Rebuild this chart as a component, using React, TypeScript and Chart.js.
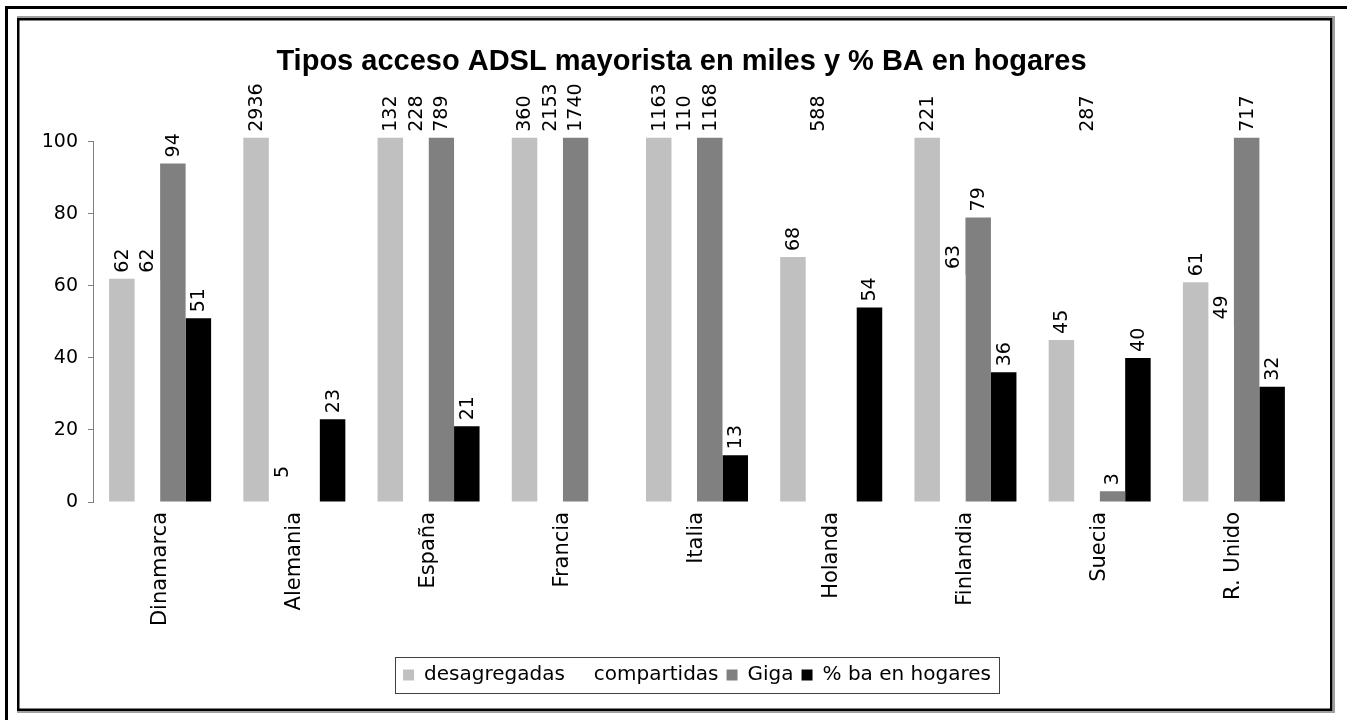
import React, { useEffect, useRef } from "react";
import { Chart, registerables } from "chart.js";

Chart.register(...registerables);

const TITLE = "Tipos acceso ADSL mayorista en miles y % BA en hogares";
const countries = ["Dinamarca", "Alemania", "España", "Francia", "Italia", "Holanda", "Finlandia", "Suecia", "R. Unido"];
const desagregadas = [62, 2936, 132, 360, 1163, 68, 221, 45, 61];
const compartidas = [62, 5, 228, 2153, 110, 588, 63, 287, 49];
const giga = [94, null, 789, 1740, 1168, null, 79, 3, 717];
const baHogares = [51, 23, 21, null, 13, 54, 36, 40, 32];
const seriesNames = ["desagregadas", "compartidas", "Giga", "% ba en hogares"];
const seriesColors = ["#C0C0C0", "#FFFFFF", "#808080", "#000000"];
const yMin = 0;
const yMax = 100;
const yStep = 20;

const SANS = '"DejaVu Sans", "Liberation Sans", Arial, sans-serif';

const framePlugin = {
  id: "frames",
  afterLayout(chart: any) {
    const tb = chart.titleBlock;
    if (tb) {
      tb.left += 21;
      tb.right += 21;
    }
  },
  beforeDraw(chart: any) {
    const ctx = chart.ctx;
    const W = chart.width;
    const H = chart.height;
    ctx.save();
    ctx.fillStyle = "#FFFFFF";
    ctx.fillRect(0, 0, W, H);
    // outer page border (top & left)
    ctx.fillStyle = "#000000";
    ctx.fillRect(5, 6, W - 5, 3);
    ctx.fillRect(5, 6, 3, H - 6);
    // inner chart frame shadow
    ctx.fillStyle = "#A0A0A0";
    ctx.fillRect(17, 16, 1318, 2);
    ctx.fillRect(1333, 16, 2, 697);
    ctx.fillRect(17, 711, 1318, 2);
    // inner chart frame
    ctx.strokeStyle = "#000000";
    ctx.lineWidth = 2.5;
    ctx.strokeRect(18.25, 19.25, 1313, 690.5);
    ctx.restore();
  },
  afterDraw(chart: any) {
    const lg = chart.legend;
    if (!lg || !lg.legendHitBoxes || !lg.legendHitBoxes.length) return;
    const boxes = lg.legendHitBoxes;
    let left = Infinity, right = -Infinity, top = Infinity, bottom = -Infinity;
    boxes.forEach((b: any) => {
      left = Math.min(left, b.left);
      right = Math.max(right, b.left + b.width);
      top = Math.min(top, b.top);
      bottom = Math.max(bottom, b.top + b.height);
    });
    const ctx = chart.ctx;
    ctx.save();
    ctx.strokeStyle = "#404040";
    ctx.lineWidth = 1;
    ctx.strokeRect(Math.round(left - 8) + 0.5, Math.round(top - 8) + 0.5, Math.round(right - left + 16), Math.round(bottom - top + 16));
    ctx.restore();
  },
};

const labelPlugin = {
  id: "vlabels",
  afterDatasetsDraw(chart: any) {
    const ctx = chart.ctx;
    const area = chart.chartArea;
    ctx.save();
    ctx.font = "19px " + SANS;
    ctx.fillStyle = "#000000";
    ctx.textAlign = "left";
    ctx.textBaseline = "middle";
    chart.data.datasets.forEach((ds: any, di: number) => {
      const meta = chart.getDatasetMeta(di);
      meta.data.forEach((el: any, i: number) => {
        const v = ds.data[i];
        if (v === null || v === undefined) return;
        const top = Math.max(el.y, area.top - 4);
        ctx.save();
        ctx.translate(el.x, top - 6);
        ctx.rotate(-Math.PI / 2);
        ctx.fillText(String(v), 0, 1);
        ctx.restore();
      });
    });
    ctx.restore();
  },
};

export default function App() {
  const ref = useRef<HTMLCanvasElement | null>(null);

  useEffect(() => {
    document.body.style.margin = "0";
    document.body.style.overflow = "hidden";
    if (!ref.current) return;
    const allSeries = [desagregadas, compartidas, giga, baHogares];
    const chart = new Chart(ref.current, {
      type: "bar",
      data: {
        labels: countries,
        datasets: allSeries.map((d, k) => ({
          label: seriesNames[k],
          data: d as any,
          backgroundColor: seriesColors[k],
          borderWidth: 0,
          categoryPercentage: 0.76,
          barPercentage: 1.0,
          clip: { left: 0, top: 4, right: 0, bottom: 0 } as any,
        })),
      },
      options: {
        responsive: false,
        animation: false,
        layout: { padding: { left: 20, right: 46, top: 16, bottom: 25 } },
        plugins: {
          title: {
            display: true,
            text: TITLE,
            color: "#000000",
            font: { family: '"Liberation Sans", Arial, sans-serif', size: 29, weight: "bold" },
            padding: { top: 29, bottom: 62 },
          },
          legend: {
            position: "bottom",
            fullSize: false,
            labels: {
              boxWidth: 11,
              boxHeight: 11,
              padding: 8,
              color: "#000000",
              font: { family: SANS, size: 20 },
            },
          },
          tooltip: { enabled: false },
        },
        scales: {
          x: {
            grid: { display: false },
            border: { display: false },
            ticks: {
              maxRotation: 90,
              minRotation: 90,
              color: "#000000",
              font: { family: SANS, size: 21 },
              padding: 2,
            },
            afterFit: (s: any) => {
              s.height = 155;
            },
          },
          y: {
            min: yMin,
            max: yMax,
            ticks: {
              stepSize: yStep,
              padding: 10,
              color: "#000000",
              font: { family: SANS, size: 19 },
            },
            grid: { drawOnChartArea: false, color: "#808080", tickLength: 5 },
            border: { color: "#808080", width: 1 },
            afterFit: (s: any) => {
              s.width = 73;
            },
          },
        },
      } as any,
      plugins: [framePlugin, labelPlugin],
    });
    return () => chart.destroy();
  }, []);

  return (
    <div style={{ width: 1347, height: 720 }}>
      <canvas ref={ref} width={1347} height={720} style={{ display: "block" }} />
    </div>
  );
}
